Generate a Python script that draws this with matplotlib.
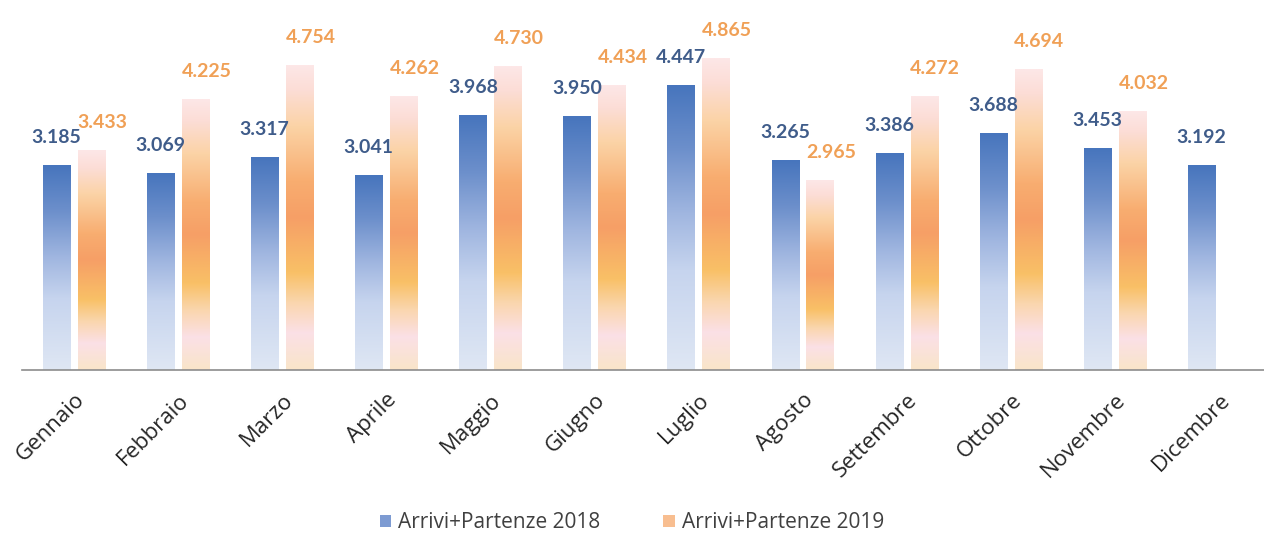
import numpy as np
import matplotlib
matplotlib.use("Agg")
import matplotlib.pyplot as plt
from matplotlib.colors import LinearSegmentedColormap
from matplotlib.patches import Patch

mesi = ['Gennaio', 'Febbraio', 'Marzo', 'Aprile', 'Maggio', 'Giugno',
        'Luglio', 'Agosto', 'Settembre', 'Ottobre', 'Novembre', 'Dicembre']
v2018 = [3.185, 3.069, 3.317, 3.041, 3.968, 3.950, 4.447, 3.265, 3.386, 3.688, 3.453, 3.192]
v2019 = [3.433, 4.225, 4.754, 4.262, 4.730, 4.434, 4.865, 2.965, 4.272, 4.694, 4.032, None]

plt.rcParams['font.family'] = ['Lato', 'DejaVu Sans']

# gradients, bottom -> top
cm_blue = LinearSegmentedColormap.from_list('b', [
    (0.0, '#DFE7F4'), (0.35, '#C6D4EE'), (0.55, '#A0B6E0'),
    (0.78, '#6C8FCB'), (1.0, '#4775BD')])
cm_orange = LinearSegmentedColormap.from_list('o', [
    (0.0, '#F9E5C9'), (0.12, '#FBE0E6'), (0.22, '#FAD6AE'),
    (0.32, '#F9C066'), (0.5, '#F69F66'), (0.62, '#F8AD70'),
    (0.8, '#FBD3A6'), (0.92, '#FCDDD6'), (1.0, '#FDE7E7')])
grad = np.linspace(0, 1, 256).reshape(-1, 1)

fig = plt.figure(figsize=(12.64, 5.36), dpi=100)
ax = fig.add_axes([22 / 1264, 166 / 536, 1242 / 1264, 346 / 536])

w = 0.26
x = np.arange(len(mesi))


def gradient_bar(xc, h, cmap):
    ax.imshow(grad, cmap=cmap, origin='lower', aspect='auto',
              extent=[xc - w / 2, xc + w / 2, 0, h], zorder=2)


for i, m in enumerate(mesi):
    a = v2018[i]
    xa = x[i] - 0.17
    gradient_bar(xa, a, cm_blue)
    ax.annotate(f'{a:.3f}', (xa, a), xytext=(0, 14), textcoords='offset points',
                ha='center', va='bottom', fontsize=14, fontweight='bold', color='#3F5C8A')
    b = v2019[i]
    if b is not None:
        xb = x[i] + 0.165
        gradient_bar(xb, b, cm_orange)
        ax.annotate(f'{b:.3f}', (xb, b), xytext=(8, 14), textcoords='offset points',
                    ha='center', va='bottom', fontsize=14, fontweight='bold', color='#F0A056')

ax.set_xlim(-0.5, 11.43)
ax.set_ylim(0, 5.4)
for s in ['top', 'right', 'left']:
    ax.spines[s].set_visible(False)
ax.spines['bottom'].set_color('#8C8C8C')
ax.spines['bottom'].set_linewidth(1.2)
ax.set_yticks([])
ax.set_xticks(x)
ax.set_xticklabels(mesi, rotation=45, ha='right', rotation_mode='anchor',
                   fontsize=16, color='#262626', family=['Open Sans', 'DejaVu Sans'])
ax.tick_params(axis='x', length=0, pad=14)

handles = [Patch(facecolor='#7D9BD2', label='Arrivi+Partenze 2018'),
           Patch(facecolor='#F8BE90', label='Arrivi+Partenze 2019')]
fig.legend(handles=handles, loc='center', bbox_to_anchor=(0.5, 1 - 523 / 536),
           ncol=2, frameon=False, handlelength=0.55, handleheight=0.55,
           columnspacing=3.0, handletextpad=0.35, labelcolor='#404040',
           prop={'family': ['Open Sans', 'DejaVu Sans'], 'size': 15})

fig.savefig('out.png', dpi=100)
